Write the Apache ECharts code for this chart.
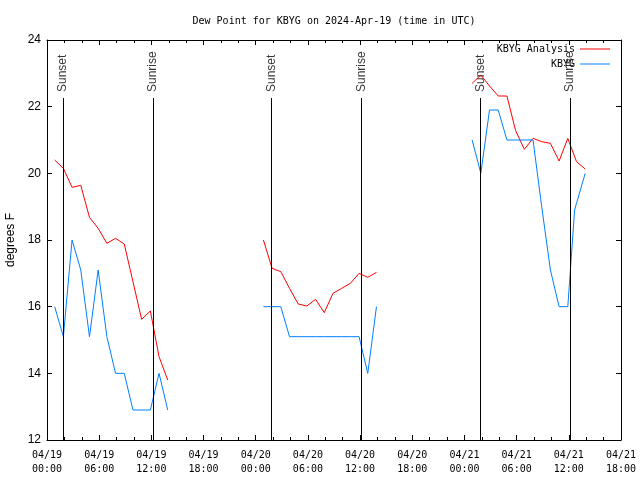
<!DOCTYPE html>
<html><head><meta charset="utf-8">
<script src="https://cdn.jsdelivr.net/npm/echarts@6/dist/echarts.min.js"></script>
<style>html,body{margin:0;padding:0;background:#fff}#c{width:640px;height:480px}</style>
</head><body><div id="c"></div>
<script>
// ---- data ----
const analysisTimes = [
  '2024-04-19T00:53Z','2024-04-19T01:53Z','2024-04-19T02:53Z','2024-04-19T03:53Z','2024-04-19T04:53Z','2024-04-19T05:53Z','2024-04-19T06:53Z',
  '2024-04-19T07:53Z','2024-04-19T08:53Z','2024-04-19T09:53Z','2024-04-19T10:53Z','2024-04-19T11:53Z','2024-04-19T12:53Z','2024-04-19T13:53Z',
  '2024-04-19T18:00Z',
  '2024-04-20T00:53Z','2024-04-20T01:53Z','2024-04-20T02:53Z','2024-04-20T03:53Z','2024-04-20T04:53Z','2024-04-20T05:53Z','2024-04-20T06:53Z',
  '2024-04-20T07:53Z','2024-04-20T08:53Z','2024-04-20T09:53Z','2024-04-20T10:53Z','2024-04-20T11:53Z','2024-04-20T12:53Z','2024-04-20T13:53Z',
  '2024-04-20T18:00Z',
  '2024-04-21T00:53Z','2024-04-21T01:53Z','2024-04-21T02:53Z','2024-04-21T03:53Z','2024-04-21T04:53Z','2024-04-21T05:53Z','2024-04-21T06:53Z',
  '2024-04-21T07:53Z','2024-04-21T08:53Z','2024-04-21T09:53Z','2024-04-21T10:53Z','2024-04-21T11:53Z','2024-04-21T12:53Z','2024-04-21T13:53Z'
];
const analysisValues = [
  20.4, 20.15, 19.58, 19.64, 18.68, 18.35, 17.9, 18.05, 17.88, 16.75, 15.62, 15.87, 14.5, 13.8,
  null,
  18.0, 17.15, 17.05, 16.55, 16.08, 16.02, 16.22, 15.82, 16.4, 16.55, 16.7, 17.0, 16.88, 17.03,
  null,
  22.7, 22.95, 22.62, 22.32, 22.32, 21.28, 20.72, 21.05, 20.95, 20.9, 20.37, 21.05, 20.35, 20.13
];
const obsTimes = [
  '2024-04-19T00:53Z','2024-04-19T01:53Z','2024-04-19T02:53Z','2024-04-19T03:53Z','2024-04-19T04:53Z','2024-04-19T05:53Z','2024-04-19T06:53Z',
  '2024-04-19T07:53Z','2024-04-19T08:53Z','2024-04-19T09:53Z','2024-04-19T10:53Z','2024-04-19T11:53Z','2024-04-19T12:53Z','2024-04-19T13:53Z',
  '2024-04-19T18:00Z',
  '2024-04-20T00:53Z','2024-04-20T01:53Z','2024-04-20T02:53Z','2024-04-20T03:53Z','2024-04-20T04:53Z','2024-04-20T05:53Z','2024-04-20T06:53Z',
  '2024-04-20T07:53Z','2024-04-20T08:53Z','2024-04-20T09:53Z','2024-04-20T10:53Z','2024-04-20T11:53Z','2024-04-20T12:53Z','2024-04-20T13:53Z',
  '2024-04-20T18:00Z',
  '2024-04-21T00:53Z','2024-04-21T01:53Z','2024-04-21T02:53Z','2024-04-21T03:53Z','2024-04-21T04:53Z','2024-04-21T05:53Z','2024-04-21T06:53Z',
  '2024-04-21T07:53Z','2024-04-21T08:53Z','2024-04-21T09:53Z','2024-04-21T10:53Z','2024-04-21T11:53Z','2024-04-21T12:40Z','2024-04-21T12:53Z',
  '2024-04-21T13:53Z'
];
const obsValues = [
  16.0, 15.1, 18.0, 17.1, 15.1, 17.1, 15.1, 14.0, 14.0, 12.9, 12.9, 12.9, 14.0, 12.9,
  null,
  16.0, 16.0, 16.0, 15.1, 15.1, 15.1, 15.1, 15.1, 15.1, 15.1, 15.1, 15.1, 14.0, 16.0,
  null,
  21.0, 20.0, 21.9, 21.9, 21.0, 21.0, 21.0, 21.0, 19.0, 17.1, 16.0, 16.0, 18.9, 19.1,
  20.0
];
const sunTimes = ['2024-04-19T01:49Z','2024-04-19T12:12Z','2024-04-20T01:50Z','2024-04-20T12:11Z','2024-04-21T01:52Z','2024-04-21T12:09Z'];
const sunLabels = ['Sunset','Sunrise','Sunset','Sunrise','Sunset','Sunrise'];
const xStart = '2024-04-19T00:00Z';
const xEnd = '2024-04-21T18:00Z';
const yTicks = [12, 14, 16, 18, 20, 22, 24];

// ---- chart ----
const H = 3600 * 1000;
const toPairs = (ts, vs) => ts.map((t, i) => [Date.parse(t), vs[i] === null ? '-' : vs[i]]);
const pad = n => (n < 10 ? '0' : '') + n;
const fmtX = v => { const d = new Date(v); return pad(d.getUTCMonth() + 1) + '/' + pad(d.getUTCDate()) + '\n' + pad(d.getUTCHours()) + ':' + pad(d.getUTCMinutes()); };
const mono = 'DejaVu Sans Mono';
const sans = 'Liberation Sans';
const xMin = Date.parse(xStart), xMax = Date.parse(xEnd);
const yMin = yTicks[0], yMax = yTicks[yTicks.length - 1];
const lineTop = 22.26, labelAnchor = 22.44;

const xBase = {
  type: 'value', min: xMin, max: xMax, interval: 6 * H,
  axisLine: { show: true, lineStyle: { color: '#000', width: 1 } },
  axisTick: { show: true, inside: true, length: 5, lineStyle: { color: '#000' } },
  minorTick: { show: true, splitNumber: 3, length: 3, lineStyle: { color: '#000' } },
  splitLine: { show: false }, minorSplitLine: { show: false }
};
const yBase = {
  type: 'value', min: yMin, max: yMax, interval: 2,
  axisLine: { show: true, lineStyle: { color: '#000', width: 1 } },
  axisTick: { show: true, inside: true, length: 5, lineStyle: { color: '#000' } },
  splitLine: { show: false }
};

const option = {
  animation: false,
  backgroundColor: '#fff',
  title: { text: 'Dew Point for KBYG on 2024-Apr-19 (time in UTC)', left: 329, top: 11, textAlign: 'center',
    textStyle: { fontFamily: mono, fontSize: 10, fontWeight: 'normal', color: '#000' } },
  legend: {
    data: ['KBYG Analysis', 'KBYG'], orient: 'vertical', right: 30, top: 43, align: 'right', padding: 0,
    icon: 'rect', itemWidth: 30, itemHeight: 1, itemGap: 3,
    textStyle: { fontFamily: mono, fontSize: 10, color: '#000', lineHeight: 12 }
  },
  grid: { left: 47, right: 19, top: 40, bottom: 40, containLabel: false, outerBoundsMode: 'none' },
  xAxis: [
    Object.assign({}, xBase, { position: 'bottom',
      axisLabel: { show: true, formatter: fmtX, fontFamily: mono, fontSize: 10, color: '#000', margin: 8, lineHeight: 14, showMaxLabel: true, showMinLabel: true } }),
    Object.assign({}, xBase, { position: 'top', axisLabel: { show: false } })
  ],
  yAxis: [
    Object.assign({}, yBase, { position: 'left', name: 'degrees F', nameLocation: 'middle', nameGap: 30, nameRotate: 90,
      nameTextStyle: { fontFamily: sans, fontSize: 12, color: '#000' },
      axisLabel: { show: true, fontFamily: sans, fontSize: 12, color: '#000', margin: 6 } }),
    Object.assign({}, yBase, { position: 'right', axisLabel: { show: false } })
  ],
  series: [
    { name: 'KBYG Analysis', type: 'line', data: toPairs(analysisTimes, analysisValues), symbol: 'none', connectNulls: false,
      lineStyle: { color: '#ff0000', width: 1 }, itemStyle: { color: '#ff0000' }, z: 3,
      markLine: { silent: true, symbol: ['none', 'none'], label: { show: false },
        lineStyle: { color: '#000', width: 1, type: 'solid' },
        data: sunTimes.map(t => [{ coord: [Date.parse(t), yMin] }, { coord: [Date.parse(t), lineTop] }]) } },
    { name: 'KBYG', type: 'line', data: toPairs(obsTimes, obsValues), symbol: 'none', connectNulls: false,
      lineStyle: { color: '#0080ff', width: 1 }, itemStyle: { color: '#0080ff' }, z: 3 },
    { name: 'sun', type: 'scatter', symbolSize: 0, silent: true, z: 2,
      data: sunTimes.map((t, i) => ({ value: [Date.parse(t), labelAnchor], name: sunLabels[i] })),
      label: { show: true, formatter: '{b}', rotate: 90, position: 'inside', align: 'left', verticalAlign: 'middle',
        fontFamily: sans, fontSize: 12, color: '#000' } }
  ]
};
const chart = echarts.init(document.getElementById('c'), null, { renderer: 'canvas' });
chart.setOption(option);
</script>
</body></html>
